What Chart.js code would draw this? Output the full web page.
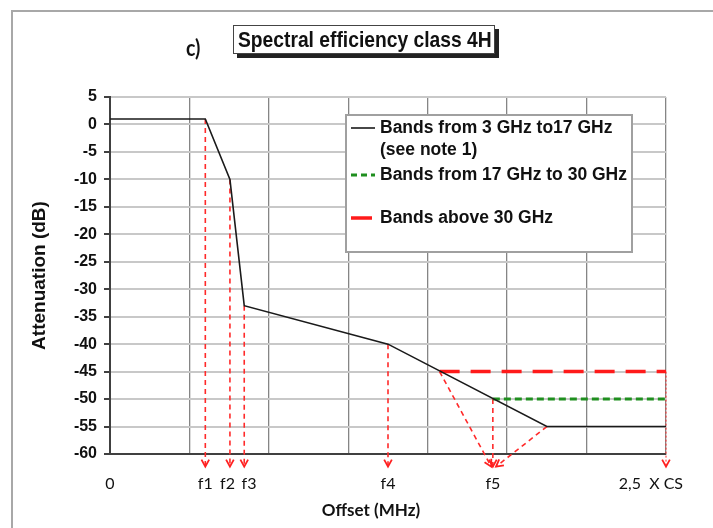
<!DOCTYPE html>
<html><head><meta charset="utf-8">
<script src="https://cdn.jsdelivr.net/npm/chart.js@4.4.1/dist/chart.umd.min.js"></script>
<style>
html,body{margin:0;padding:0;background:#fff;}
#wrap{position:relative;width:713px;height:528px;overflow:hidden;background:#fff;}
#frame{position:absolute;left:11px;top:10px;width:760px;height:600px;border-left:2px solid #a8a8a8;border-top:2px solid #a8a8a8;}
canvas{position:absolute;left:0;top:0;}
#lab{position:absolute;left:186px;top:34px;font:bold 23px Lato, sans-serif;line-height:26px;color:#111;transform:scaleX(0.85);transform-origin:left top;}
#ttl{position:absolute;left:233px;top:25px;width:260px;height:27px;border:1px solid #444;box-shadow:4px 4px 0 #222;background:#fff;overflow:visible;}
#ttl span{position:absolute;left:4px;top:0;font:bold 22px "Liberation Sans",Arial,sans-serif;line-height:28px;color:#111;white-space:nowrap;transform:scaleX(0.875);transform-origin:left top;}
#xt{position:absolute;left:271px;width:200px;top:499px;text-align:center;font:bold 17px Lato, sans-serif;line-height:22px;color:#111;}
</style></head>
<body>
<div id="wrap">
<div id="frame"></div>
<canvas id="c" width="713" height="528"></canvas>
<div id="lab">c)</div>
<div id="ttl"><span>Spectral efficiency class 4H</span></div>
<div id="xt">Offset (MHz)</div>
</div>
<script>
// ---- data ----
const xTickValues = [0, 1.2, 1.48, 1.75, 3.5, 4.82, 6.81];
const xTickLabels = ['0', 'f1', 'f2', 'f3', 'f4', 'f5', '2,5  X CS'];
const gridValues = [0, 1, 2, 3, 4, 5, 6, 7];
const yMin = -60, yMax = 5, yStep = 5;

const seriesNames = [['Bands from 3 GHz to17 GHz', '(see note 1)'], ['Bands from 17 GHz to 30 GHz'], ['Bands above 30 GHz']];

const mainX = [0, 1.2, 1.51, 1.69, 3.5, 5.5, 7];
const mainY = [1, 1, -10, -33, -40, -55, -55];
const greenX = [4.82, 7];
const greenY = [-50, -50];
const redX = [4.15, 7];
const redY = [-45, -45];

const guideFromX = [1.2, 1.51, 1.69, 3.5, 4.15, 4.82, 5.5];
const guideFromY = [1, -10, -33, -40, -45, -50, -55];
const guideToX = [1.2, 1.51, 1.69, 3.5, 4.8, 4.82, 4.86];
const guideToY = [-62.3, -62.3, -62.3, -62.3, -62.3, -62.3, -62.3];
const edgeX = [7, 7];
const edgeY = [-45, -62.3];

// ---- build ----
const pts = (xs, ys) => xs.map((x, i) => ({x: x, y: ys[i]}));
const guidePts = [];
guideFromX.forEach((x, i) => {
  guidePts.push({x: x, y: guideFromY[i]});
  guidePts.push({x: guideToX[i], y: guideToY[i]});
  guidePts.push({x: guideToX[i], y: null});
});

const legendPlugin = {
  id: 'boxLegend',
  afterDatasetsDraw(chart, args, o) {
    const c = chart.ctx;
    c.save();
    c.fillStyle = '#fff';
    c.fillRect(o.x, o.y, o.w, o.h);
    c.strokeStyle = '#a0a0a0';
    c.lineWidth = 2;
    c.strokeRect(o.x, o.y, o.w, o.h);
    c.font = 'bold 17.5px "Liberation Sans", Arial, sans-serif';
    c.textBaseline = 'middle';
    o.rows.forEach((r, i) => {
      const ds = chart.data.datasets[i];
      c.strokeStyle = ds.borderColor;
      c.lineWidth = r.lw;
      c.setLineDash(r.dash || []);
      c.beginPath();
      c.moveTo(o.x + 5, r.y);
      c.lineTo(o.x + r.len, r.y);
      c.stroke();
      c.setLineDash([]);
      c.fillStyle = '#111';
      seriesNames[i].forEach((t, j) => c.fillText(t, o.x + 34, r.y + j * 22));
    });
    c.restore();
  }
};

const arrowPlugin = {
  id: 'arrows',
  afterDatasetsDraw(chart) {
    const xs = chart.scales.x, ys = chart.scales.y, c = chart.ctx;
    const segs = guideFromX.map((x, i) => [x, guideFromY[i], guideToX[i], guideToY[i]]);
    segs.push([edgeX[0], edgeY[0], edgeX[1], edgeY[1]]);
    c.save();
    c.strokeStyle = '#ff2020';
    c.lineWidth = 1.8;
    segs.forEach(s => {
      const x0 = xs.getPixelForValue(s[0]), y0 = ys.getPixelForValue(s[1]);
      const x1 = xs.getPixelForValue(s[2]), y1 = ys.getPixelForValue(s[3]);
      const a = Math.atan2(y1 - y0, x1 - x0), L = 8, h = 0.5;
      c.beginPath();
      c.moveTo(x1 - L * Math.cos(a - h), y1 - L * Math.sin(a - h));
      c.lineTo(x1, y1);
      c.lineTo(x1 - L * Math.cos(a + h), y1 - L * Math.sin(a + h));
      c.stroke();
    });
    c.restore();
  }
};

new Chart(document.getElementById('c'), {
  type: 'line',
  data: {
    datasets: [
      {label: seriesNames[0].join(' '), data: pts(mainX, mainY), borderColor: '#1a1a1a', borderWidth: 1.6, pointRadius: 0, tension: 0},
      {label: seriesNames[1].join(' '), data: pts(greenX, greenY), borderColor: '#1f8f1f', borderWidth: 3, borderDash: [7, 4], pointRadius: 0},
      {label: seriesNames[2].join(' '), data: pts(redX, redY), borderColor: '#ff1a1a', borderWidth: 3.5, borderDash: [20, 11], pointRadius: 0},
      {label: 'guides', data: guidePts, borderColor: '#ff2a2a', borderWidth: 1.6, borderDash: [5, 4], pointRadius: 0, spanGaps: false, clip: false},
      {label: 'edge', data: pts(edgeX, edgeY), borderColor: '#ff2a2a', borderWidth: 1, borderDash: [2, 2], pointRadius: 0, clip: false}
    ]
  },
  options: {
    responsive: false,
    animation: false,
    events: [],
    layout: {padding: {top: 97, right: 47, left: 0, bottom: 0}},
    scales: {
      x: {
        type: 'linear', min: 0, max: 7,
        afterBuildTicks(s) {
          const v = Array.from(new Set(gridValues.concat(xTickValues))).sort((a, b) => a - b);
          s.ticks = v.map(t => ({value: t}));
        },
        afterFit(s) { s.height = 74; },
        grid: {
          color: ctx => (ctx.tick && gridValues.includes(ctx.tick.value)) ? '#858585' : 'rgba(0,0,0,0)',
          lineWidth: 1.3, drawTicks: false
        },
        border: {color: '#404040', width: 2},
        ticks: {
          autoSkip: false, maxRotation: 0, padding: 20, color: '#111',
          font: {family: 'Lato', size: 16},
          callback: v => { const i = xTickValues.indexOf(v); return i >= 0 ? xTickLabels[i] : ''; }
        }
      },
      y: {
        min: yMin, max: yMax,
        afterFit(s) { s.width = 110; },
        grid: {color: '#c8c8c8', lineWidth: 2, tickColor: '#404040', tickLength: 6},
        border: {color: '#404040', width: 2},
        ticks: {stepSize: yStep, padding: 7, color: '#111', font: {family: 'Liberation Sans', size: 16, weight: 'bold'}, callback: v => String(v)},
        title: {display: true, text: 'Attenuation (dB)', color: '#111', font: {family: 'Liberation Sans', size: 19, weight: 'bold'}, padding: {top: 28, bottom: 0}}
      }
    },
    plugins: {
      legend: {display: false},
      tooltip: {enabled: false},
      boxLegend: {x: 346, y: 115, w: 286, h: 137, rows: [{y: 128, lw: 1.6, len: 29}, {y: 175, lw: 3, dash: [6, 4], len: 29}, {y: 218, lw: 3.5, len: 26}]}
    }
  },
  plugins: [legendPlugin, arrowPlugin]
});
</script>
</body></html>
